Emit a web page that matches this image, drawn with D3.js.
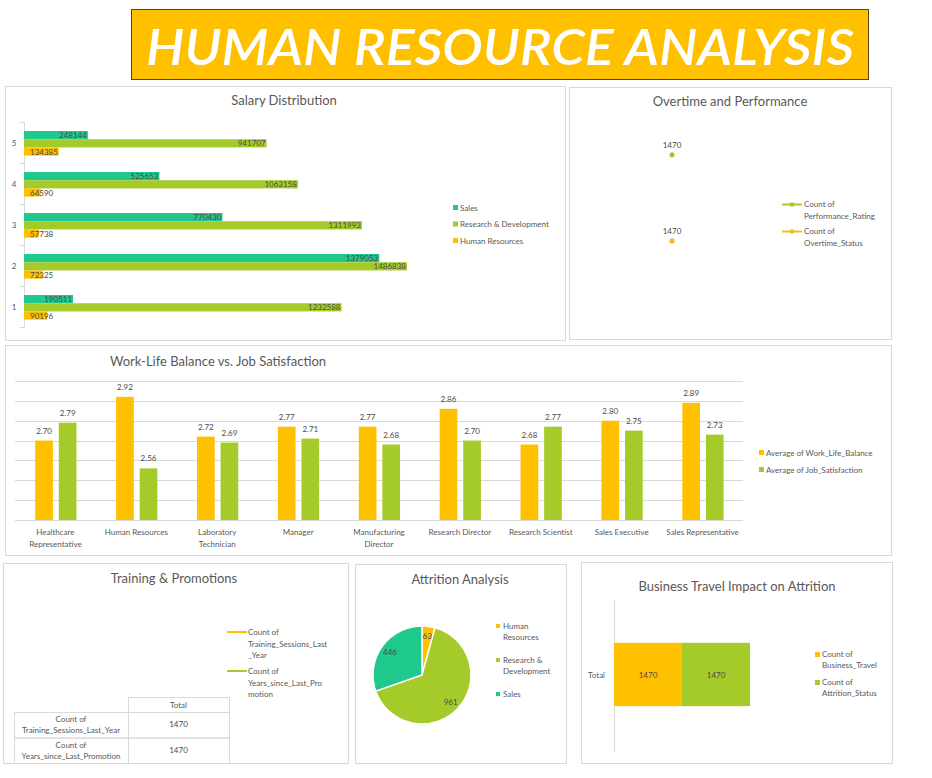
<!DOCTYPE html>
<html lang="en">
<head>
    <meta charset="UTF-8">
    <title>Human Resource Analysis</title>
    <script src="https://d3js.org/d3.v7.min.js"></script>
    <style>
        body { margin: 0; background: #fff; }
        svg { display: block; font-family: Lato, "Open Sans", sans-serif; }
        .panel { fill: #fff; stroke: #d9d9d9; stroke-width: 1px; }
        .ptitle { fill: #595959; font-size: 13px; text-anchor: middle; }
        .lbl { fill: #595959; font-size: 8px; }
        .val { fill: #4a4a4a; font-size: 8px; }
    </style>
</head>
<body>
    <svg id="dash" width="932" height="778"></svg>

    <script>
        // salary distribution (by salary level)
        const salaryLevels = ["1", "2", "3", "4", "5"];
        const salarySeries = ["Sales", "Research & Development", "Human Resources"];
        const salarySales = [190511, 1379053, 770430, 525653, 248144];
        const salaryRD = [1232588, 1486838, 1311993, 1063158, 941707];
        const salaryHR = [90196, 72325, 57738, 64590, 134385];

        // overtime and performance
        const overtimeCategory = ["Total"];
        const overtimeSeries = ["Count of Performance_Rating", "Count of Overtime_Status"];
        const performanceCount = [1470];
        const overtimeCount = [1470];

        // work-life balance vs job satisfaction
        const jobRoles = ["Healthcare Representative", "Human Resources", "Laboratory Technician", "Manager",
            "Manufacturing Director", "Research Director", "Research Scientist", "Sales Executive", "Sales Representative"];
        const roleTickLabels = [["Healthcare", "Representative"], ["Human Resources"], ["Laboratory", "Technician"], ["Manager"],
            ["Manufacturing", "Director"], ["Research Director"], ["Research Scientist"], ["Sales Executive"], ["Sales Representative"]];
        const workLifeSeries = ["Average of Work_Life_Balance", "Average of Job_Satisfaction"];
        const workLifeAvg = [2.70, 2.92, 2.72, 2.77, 2.77, 2.86, 2.68, 2.80, 2.89];
        const jobSatAvg = [2.79, 2.56, 2.69, 2.71, 2.68, 2.70, 2.77, 2.75, 2.73];

        // training & promotions
        const trainingRows = [["Count of", "Training_Sessions_Last_Year"], ["Count of", "Years_since_Last_Promotion"]];
        const trainingLegend = [["Count of", "Training_Sessions_Last", "_Year"], ["Count of", "Years_since_Last_Pro", "motion"]];
        const trainingTotals = [1470, 1470];

        // attrition analysis
        const attritionDepts = ["Human Resources", "Research & Development", "Sales"];
        const attritionLegend = [["Human", "Resources"], ["Research &", "Development"], ["Sales"]];
        const attritionCounts = [63, 961, 446];

        // business travel impact on attrition
        const travelSeries = [["Count of", "Business_Travel"], ["Count of", "Attrition_Status"]];
        const travelCounts = [1470, 1470];

        const ORANGE = "#FFC000", GREEN = "#A5CB2A", TEAL = "#1FC98B";

        const svg = d3.select("#dash");

        function panel(x, y, w, h, title, tx, ty) {
            svg.append("rect").attr("class", "panel")
                .attr("x", x + 0.5).attr("y", y + 0.5).attr("width", w).attr("height", h);
            svg.append("text").attr("class", "ptitle")
                .attr("x", tx).attr("y", ty).text(title);
        }

        function multiline(g, lines, x, y, lh, anchor) {
            const t = g.append("text").attr("class", "lbl")
                .attr("x", x).attr("y", y).attr("text-anchor", anchor || "start");
            lines.forEach((s, i) => t.append("tspan").attr("x", x).attr("dy", i ? lh : 0).text(s));
            return t;
        }

        // ---- banner ----
        svg.append("rect")
            .attr("x", 131.5).attr("y", 9.5).attr("width", 737).attr("height", 70)
            .attr("fill", ORANGE).attr("stroke", "#5c4a00").attr("stroke-width", 1);
        svg.append("text")
            .attr("x", 146).attr("y", 65)
            .attr("fill", "#fff")
            .attr("font-size", 50)
            .attr("font-style", "italic")
            .attr("font-weight", 600)
            .attr("textLength", 708)
            .attr("lengthAdjust", "spacingAndGlyphs")
            .text("HUMAN RESOURCE ANALYSIS");

        // ---- Salary Distribution ----
        panel(5, 86, 560, 254, "Salary Distribution", 284, 105);
        {
            const rows = salaryLevels.map((lvl, i) => ({
                lvl, vals: [salarySales[i], salaryRD[i], salaryHR[i]]
            }));
            const x = d3.scaleLinear().domain([0, 1486838]).range([24, 407]);
            const y = d3.scaleBand().domain(salaryLevels.slice().reverse()).range([122, 327]);
            const yi = d3.scaleBand().domain(salarySeries)
                .range([y.bandwidth() * 0.22, y.bandwidth() * 0.82]);
            const color = d3.scaleOrdinal().domain(salarySeries).range([TEAL, GREEN, ORANGE]);

            const g = svg.append("g");
            // axis line + ticks at band edges
            g.append("line").attr("x1", 24.5).attr("x2", 24.5).attr("y1", 122).attr("y2", 327)
                .attr("stroke", "#d9d9d9");
            const edges = salaryLevels.map(l => y(l)).concat([y.range()[1]]);
            g.selectAll(".tk").data(edges).enter().append("line")
                .attr("x1", 20).attr("x2", 24.5)
                .attr("y1", d => Math.round(d) + 0.5).attr("y2", d => Math.round(d) + 0.5)
                .attr("stroke", "#d9d9d9");
            g.selectAll(".ylab").data(salaryLevels).enter().append("text")
                .attr("class", "lbl").attr("font-size", 7)
                .attr("x", 14).attr("y", d => y(d) + y.bandwidth() / 2 + 3)
                .attr("text-anchor", "middle").text(d => d);

            const grp = g.selectAll(".grp").data(rows).enter().append("g")
                .attr("transform", d => `translate(0,${y(d.lvl)})`);
            const items = grp.selectAll("g").data(d => d.vals.map((v, k) => ({ s: salarySeries[k], v })))
                .enter().append("g");
            items.append("rect")
                .attr("x", x(0)).attr("y", d => yi(d.s))
                .attr("width", d => x(d.v) - x(0)).attr("height", yi.bandwidth())
                .attr("fill", d => color(d.s));
            items.append("text").attr("class", "val")
                .attr("y", d => yi(d.s) + yi.bandwidth() / 2 + 3)
                .attr("x", d => x(d.v) - x(0) < 36 ? x(0) + 6 : x(d.v) - 1)
                .attr("text-anchor", d => x(d.v) - x(0) < 36 ? "start" : "end")
                .text(d => d.v);

            const lg = g.selectAll(".lg").data(salarySeries).enter().append("g")
                .attr("transform", (d, i) => `translate(453,${205 + i * 16.5})`);
            lg.append("rect").attr("width", 5).attr("height", 5).attr("fill", d => color(d));
            lg.append("text").attr("class", "lbl").attr("x", 7).attr("y", 5.5).text(d => d);
        }

        // ---- Overtime and Performance ----
        panel(569, 87, 322, 252, "Overtime and Performance", 730, 106);
        {
            const x = d3.scalePoint().domain(overtimeCategory).range([578, 766]).padding(0.5);
            const y = d3.scaleLinear().domain([0, 3500]).range([327, 122]);
            // stacked line: overtime at bottom, performance on top
            const pts = [
                { s: overtimeSeries[0], v: performanceCount[0], top: overtimeCount[0] + performanceCount[0], c: GREEN },
                { s: overtimeSeries[1], v: overtimeCount[0], top: overtimeCount[0], c: "#F2BE1E" }
            ];
            const g = svg.append("g");
            g.selectAll("circle").data(pts).enter().append("circle")
                .attr("cx", x(overtimeCategory[0])).attr("cy", d => y(d.top))
                .attr("r", 2.6).attr("fill", d => d.c);
            g.selectAll(".pv").data(pts).enter().append("text").attr("class", "val")
                .attr("font-size", 7.5).attr("text-anchor", "middle")
                .attr("x", x(overtimeCategory[0])).attr("y", d => y(d.top) - 7).text(d => d.v);

            const legendLines = [["Count of", "Performance_Rating"], ["Count of", "Overtime_Status"]];
            pts.forEach((d, i) => {
                const ly = 207 + i * 27;
                g.append("line").attr("x1", 782).attr("x2", 802).attr("y1", ly - 2.5).attr("y2", ly - 2.5)
                    .attr("stroke", d.c).attr("stroke-width", 2);
                g.append("circle").attr("cx", 792).attr("cy", ly - 2.5).attr("r", 2.3).attr("fill", d.c);
                multiline(g, legendLines[i], 804, ly, 11.5);
            });
        }

        // ---- Work-Life Balance vs. Job Satisfaction ----
        panel(5, 345, 886, 210, "Work-Life Balance vs. Job Satisfaction", 218, 366);
        {
            const x = d3.scaleBand().domain(jobRoles).range([15, 743]);
            const bw = x.bandwidth();
            const xi = d3.scaleBand().domain(workLifeSeries).range([bw * 0.25, bw * 0.76]).paddingInner(0.25);
            const y = d3.scaleLinear().domain([2.3, 3.0]).range([520, 381]);
            const color = d3.scaleOrdinal().domain(workLifeSeries).range([ORANGE, GREEN]);
            const g = svg.append("g");

            g.selectAll(".grid").data(d3.range(2.3, 3.0001, 0.1)).enter().append("line")
                .attr("x1", 15).attr("x2", 743)
                .attr("y1", d => Math.round(y(d)) + 0.5).attr("y2", d => Math.round(y(d)) + 0.5)
                .attr("stroke", "#d9d9d9");

            const rows = jobRoles.map((r, i) => ({ r, vals: [workLifeAvg[i], jobSatAvg[i]] }));
            const grp = g.selectAll(".grp").data(rows).enter().append("g")
                .attr("transform", d => `translate(${x(d.r)},0)`);
            const items = grp.selectAll("g").data(d => d.vals.map((v, k) => ({ s: workLifeSeries[k], v })))
                .enter().append("g");
            items.append("rect")
                .attr("x", d => xi(d.s)).attr("width", xi.bandwidth())
                .attr("y", d => y(d.v)).attr("height", d => y(2.3) - y(d.v))
                .attr("fill", d => color(d.s));
            items.append("text").attr("class", "val").attr("font-size", 7.5).attr("fill", "#595959")
                .attr("text-anchor", "middle")
                .attr("x", d => xi(d.s) + xi.bandwidth() / 2).attr("y", d => y(d.v) - 7)
                .text(d => d.v.toFixed(2));

            jobRoles.forEach((r, i) => {
                multiline(g, roleTickLabels[i], x(r) + bw / 2, 535, 12, "middle");
            });

            const lg = g.selectAll(".lg").data(workLifeSeries).enter().append("g")
                .attr("transform", (d, i) => `translate(759,${450 + i * 17})`);
            lg.append("rect").attr("width", 5).attr("height", 5).attr("fill", d => color(d));
            lg.append("text").attr("class", "lbl").attr("x", 7).attr("y", 5.5).text(d => d);
        }

        // ---- Training & Promotions ----
        panel(3, 563, 345, 200, "Training & Promotions", 174, 583);
        {
            const g = svg.append("g");
            const lc = [ORANGE, GREEN];
            trainingLegend.forEach((lines, i) => {
                const ly = 635 + i * 39;
                g.append("line").attr("x1", 227).attr("x2", 247).attr("y1", ly - 3).attr("y2", ly - 3)
                    .attr("stroke", lc[i]).attr("stroke-width", 2);
                multiline(g, lines, 248, ly, 11.5);
            });

            const cx0 = 14, cx1 = 128, cx2 = 229, hy = 697, rh = 25.5;
            const st = "#d9d9d9";
            g.append("rect").attr("x", cx1 + 0.5).attr("y", hy + 0.5).attr("width", cx2 - cx1).attr("height", 15)
                .attr("fill", "none").attr("stroke", st);
            g.append("text").attr("class", "lbl").attr("text-anchor", "middle")
                .attr("x", (cx1 + cx2) / 2).attr("y", hy + 11).text("Total");
            trainingRows.forEach((lines, i) => {
                const ry = hy + 15 + i * rh;
                g.append("rect").attr("x", cx0 + 0.5).attr("y", ry + 0.5).attr("width", cx1 - cx0).attr("height", rh)
                    .attr("fill", "none").attr("stroke", st);
                g.append("rect").attr("x", cx1 + 0.5).attr("y", ry + 0.5).attr("width", cx2 - cx1).attr("height", rh)
                    .attr("fill", "none").attr("stroke", st);
                multiline(g, lines, (cx0 + cx1) / 2, ry + 10, 11, "middle");
                g.append("text").attr("class", "val").attr("font-size", 7.5).attr("text-anchor", "middle")
                    .attr("x", (cx1 + cx2) / 2).attr("y", ry + 15).text(trainingTotals[i]);
            });
        }

        // ---- Attrition Analysis ----
        panel(355, 564, 211, 199, "Attrition Analysis", 460, 584);
        {
            const color = d3.scaleOrdinal().domain(attritionDepts).range([ORANGE, GREEN, TEAL]);
            const pie = d3.pie().sort(null).value(d => d.v);
            const data = pie(attritionDepts.map((d, i) => ({ d, v: attritionCounts[i] })));
            const r = 49;
            const arc = d3.arc().innerRadius(0).outerRadius(r);
            const lab = d3.arc().innerRadius(r * 0.8).outerRadius(r * 0.8);
            const g = svg.append("g").attr("transform", "translate(422,675)");
            g.selectAll("path").data(data).enter().append("path")
                .attr("d", arc).attr("fill", d => color(d.data.d))
                .attr("stroke", "#fff").attr("stroke-width", 1.5);
            g.selectAll("text").data(data).enter().append("text").attr("class", "val")
                .attr("fill", "#595959").attr("text-anchor", "middle")
                .attr("transform", d => `translate(${lab.centroid(d)})`).attr("dy", 3)
                .text(d => d.data.v);

            const lg = svg.append("g");
            const ys = [629, 663, 697];
            attritionDepts.forEach((d, i) => {
                lg.append("rect").attr("x", 496).attr("y", ys[i] - 5).attr("width", 4).attr("height", 4)
                    .attr("fill", color(d));
                multiline(lg, attritionLegend[i], 503, ys[i], 11);
            });
        }

        // ---- Business Travel Impact on Attrition ----
        panel(581, 562, 311, 201, "Business Travel Impact on Attrition", 737, 591);
        {
            const x = d3.scaleLinear().domain([0, 3500]).range([614, 776]);
            const y = d3.scaleBand().domain(overtimeCategory).range([597, 752]).padding(0.42);
            const colors = [ORANGE, GREEN];
            const g = svg.append("g");
            g.append("line").attr("x1", 614.5).attr("x2", 614.5).attr("y1", 600).attr("y2", 752)
                .attr("stroke", "#d9d9d9");
            g.append("text").attr("class", "lbl").attr("text-anchor", "end")
                .attr("x", 605).attr("y", y("Total") + y.bandwidth() / 2 + 3).text("Total");
            let acc = 0;
            travelCounts.forEach((v, i) => {
                const x0 = acc, x1 = acc + v;
                g.append("rect").attr("x", x(x0)).attr("width", x(x1) - x(x0))
                    .attr("y", y("Total")).attr("height", y.bandwidth()).attr("fill", colors[i]);
                g.append("text").attr("class", "val").attr("font-size", 7.5).attr("text-anchor", "middle")
                    .attr("x", (x(x0) + x(x1)) / 2).attr("y", y("Total") + y.bandwidth() / 2 + 3).text(v);
                acc = x1;
            });
            travelSeries.forEach((lines, i) => {
                const ly = 657 + i * 28;
                g.append("rect").attr("x", 815).attr("y", ly - 5).attr("width", 5).attr("height", 5)
                    .attr("fill", colors[i]);
                multiline(g, lines, 822, ly, 11);
            });
        }
    </script>
</body>
</html>
